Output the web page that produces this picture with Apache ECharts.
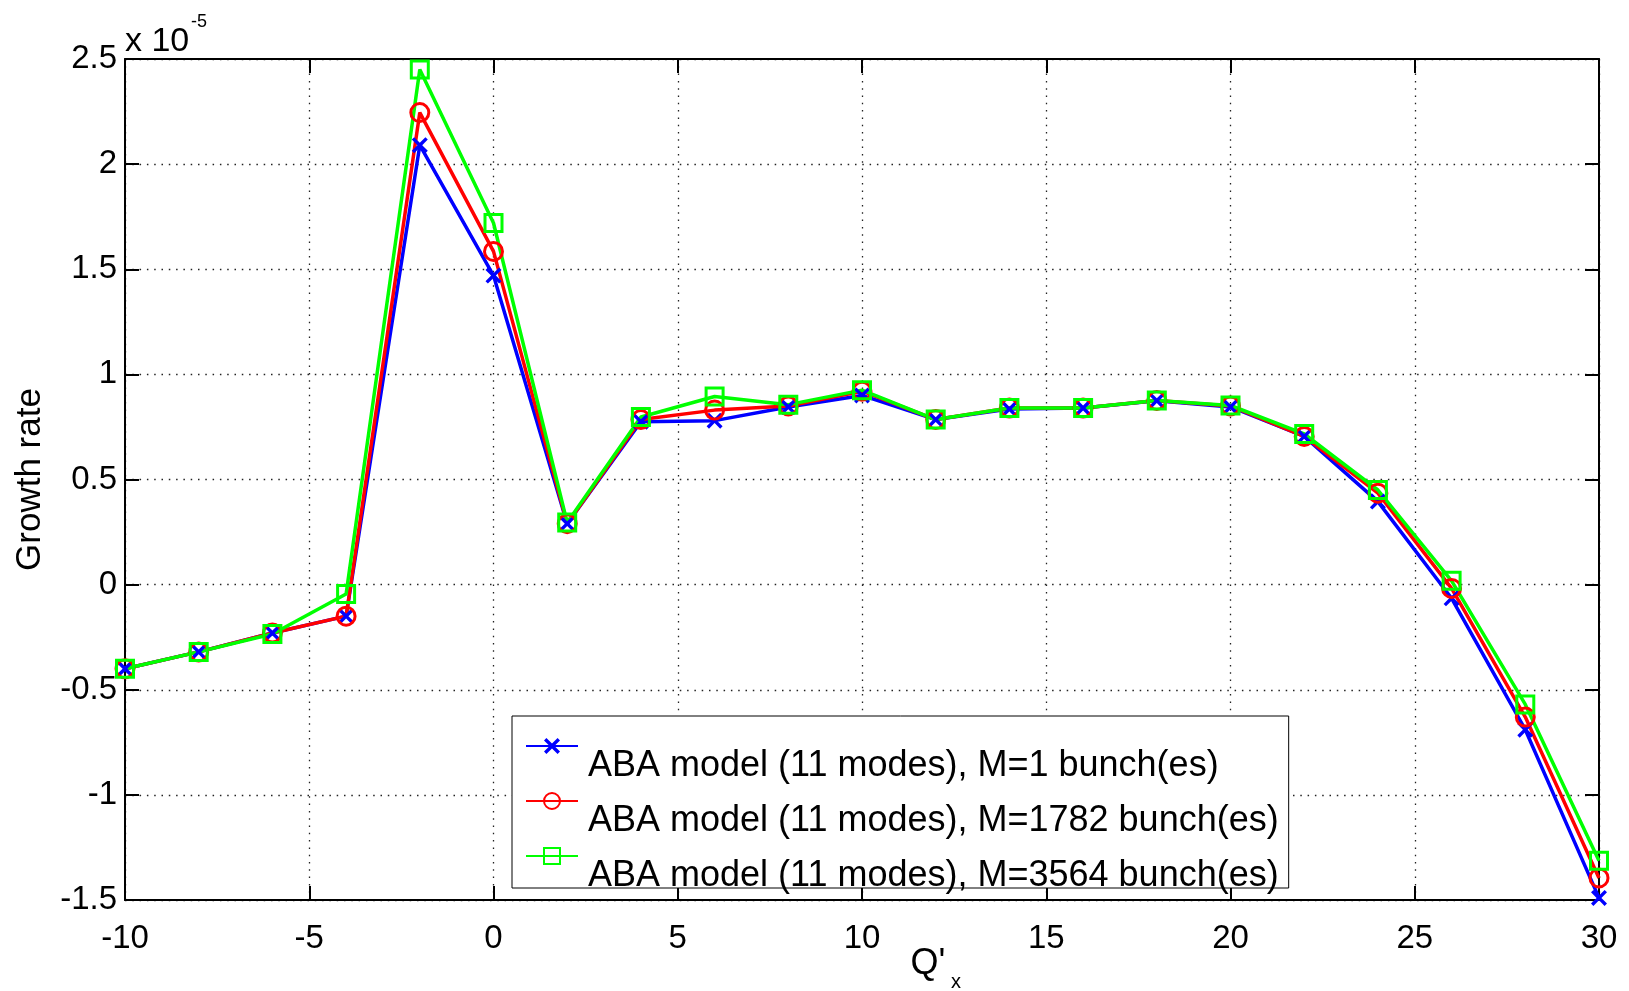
<!DOCTYPE html>
<html>
<head>
<meta charset="utf-8">
<script src="https://cdn.jsdelivr.net/npm/echarts@6/dist/echarts.min.js"></script>
<style>
  html, body { margin: 0; padding: 0; background: #fff; }
  #chart { width: 1629px; height: 991px; }
</style>
</head>
<body>
<div id="chart"></div>
<script>
// Chromaticity scan: growth rate of the most unstable mode vs Q'x.
// Growth rates are given in units of 1e-5 (see the exponent label above the y axis).
const qPrime = [-10, -8, -6, -4, -2, 0, 2, 4, 6, 8, 10, 12, 14, 16, 18, 20, 22, 24, 26, 28, 30];

const growthM1 = [-0.40, -0.32, -0.23, -0.15, 2.09, 1.47, 0.29, 0.775, 0.78, 0.845, 0.90,
                  0.785, 0.835, 0.84, 0.875, 0.845, 0.705, 0.395, -0.065, -0.69, -1.49];
const growthM1782 = [-0.40, -0.32, -0.23, -0.15, 2.245, 1.585, 0.29, 0.785, 0.83, 0.85, 0.92,
                     0.785, 0.84, 0.84, 0.876, 0.85, 0.705, 0.435, -0.018, -0.63, -1.395];
const growthM3564 = [-0.40, -0.32, -0.235, -0.045, 2.45, 1.72, 0.295, 0.797, 0.895, 0.856, 0.925,
                     0.785, 0.84, 0.84, 0.876, 0.852, 0.717, 0.45, 0.018, -0.57, -1.313];

const seriesNames = [
  'ABA model (11 modes), M=1 bunch(es)',
  'ABA model (11 modes), M=1782 bunch(es)',
  'ABA model (11 modes), M=3564 bunch(es)'
];

const xRange = { min: -10, max: 30, interval: 5 };
const yRange = { min: -1.5, max: 2.5, interval: 0.5 };
const yExponentBase = 'x 10';
const yExponent = '-5';
const xTitle = "Q'";
const xTitleSub = 'x';
const yTitle = 'Growth rate';

const FONT = '"Liberation Sans", Arial, Helvetica, sans-serif';
const crossPath = 'path://M0,1.5L1.5,0L5,3.5L8.5,0L10,1.5L6.5,5L10,8.5L8.5,10L5,6.5L1.5,10L0,8.5L3.5,5Z';

function pairs(ys) { return qPrime.map((x, i) => [x, ys[i]]); }

const gridLine = { show: true, lineStyle: { color: '#222', width: 1.3, type: [1.5, 5.8] } };
const tickStyle = { show: true, inside: true, length: 14, lineStyle: { color: '#000', width: 2 } };
const frameLine = { show: true, onZero: false, lineStyle: { color: '#000', width: 2 } };

const chart = echarts.init(document.getElementById('chart'), null, { renderer: 'canvas' });

chart.setOption({
  backgroundColor: '#fff',
  animation: false,
  grid: { left: 125, right: 30, top: 59, bottom: 91, containLabel: false },
  legend: {
    left: 512, top: 716,
    orient: 'vertical',
    padding: [22, 10, -6, 13],
    itemGap: 8,
    itemWidth: 52,
    itemHeight: 20,
    backgroundColor: '#fff',
    borderColor: '#000',
    borderWidth: 1,
    borderRadius: 0,
    selectedMode: false,
    // the entry text sits half a line below its key, so each label is
    // preceded by a spacer line
    formatter: name => '{g| }\n{t|' + name + '}',
    textStyle: {
      fontFamily: FONT, fontSize: 36, color: '#000',
      rich: {
        g: { fontSize: 10, lineHeight: 40 },
        t: { fontFamily: FONT, fontSize: 36, color: '#000', lineHeight: 4, padding: [0, 0, 0, 5] }
      }
    },
    data: seriesNames
  },
  xAxis: [
    {
      type: 'value', position: 'bottom',
      min: xRange.min, max: xRange.max, interval: xRange.interval,
      axisLine: frameLine, axisTick: tickStyle, splitLine: gridLine,
      axisLabel: { fontFamily: FONT, fontSize: 33, color: '#000', margin: 22 }
    },
    {
      type: 'value', position: 'top',
      min: xRange.min, max: xRange.max, interval: xRange.interval,
      axisLine: frameLine, axisTick: tickStyle,
      splitLine: { show: false }, axisLabel: { show: false }
    }
  ],
  yAxis: [
    {
      type: 'value', position: 'left',
      min: yRange.min, max: yRange.max, interval: yRange.interval,
      axisLine: frameLine, axisTick: tickStyle, splitLine: gridLine,
      axisLabel: { fontFamily: FONT, fontSize: 33, color: '#000', margin: 8 },
      name: yTitle, nameLocation: 'middle', nameGap: 77,
      nameTextStyle: { fontFamily: FONT, fontSize: 35, color: '#000' }
    },
    {
      type: 'value', position: 'right',
      min: yRange.min, max: yRange.max, interval: yRange.interval,
      axisLine: frameLine, axisTick: tickStyle,
      splitLine: { show: false }, axisLabel: { show: false }
    }
  ],
  series: [
    {
      name: seriesNames[0], type: 'line', data: pairs(growthM1),
      symbol: crossPath, symbolSize: 16,
      lineStyle: { color: '#0000ff', width: 3.5 },
      itemStyle: { color: '#0000ff' }
    },
    {
      name: seriesNames[1], type: 'line', data: pairs(growthM1782),
      symbol: 'circle', symbolSize: 18,
      lineStyle: { color: '#ff0000', width: 3.5 },
      itemStyle: { color: 'rgba(0,0,0,0)', borderColor: '#ff0000', borderWidth: 3 }
    },
    {
      name: seriesNames[2], type: 'line', data: pairs(growthM3564),
      symbol: 'rect', symbolSize: 17,
      lineStyle: { color: '#00ff00', width: 3.5 },
      itemStyle: { color: 'rgba(0,0,0,0)', borderColor: '#00ff00', borderWidth: 3 }
    }
  ],
  graphic: [
    { type: 'text', left: 125, top: 25,
      style: { text: yExponentBase, font: '34px ' + FONT, fill: '#000' } },
    { type: 'text', left: 191, top: 13,
      style: { text: yExponent, font: '18px ' + FONT, fill: '#000' } },
    { type: 'text', x: 928, y: 964,
      style: { text: xTitle, font: '36px ' + FONT, fill: '#000', align: 'center', verticalAlign: 'middle' } },
    { type: 'text', x: 956, y: 982,
      style: { text: xTitleSub, font: '20px ' + FONT, fill: '#000', align: 'center', verticalAlign: 'middle' } }
  ]
});
</script>
</body>
</html>
